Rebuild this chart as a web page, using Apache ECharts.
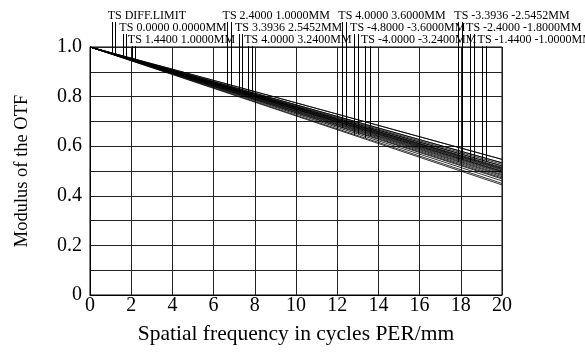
<!DOCTYPE html>
<html><head><meta charset="utf-8">
<script src="https://cdn.jsdelivr.net/npm/echarts@6/dist/echarts.min.js"></script>
<style>html,body{margin:0;padding:0;background:#fff}#c{width:585px;height:356px}</style>
</head><body><div id="c"></div>
<script>
// Data
const freq = [0, 5, 10, 15, 20];
const fieldLabels = ["TS DIFF.LIMIT", "TS 0.0000 0.0000MM", "TS 1.4400 1.0000MM", "TS 2.4000 1.0000MM",
  "TS 3.3936 2.5452MM", "TS 4.0000 3.2400MM", "TS 4.0000 3.6000MM", "TS -4.8000 -3.6000MM",
  "TS -4.0000 -3.2400MM", "TS -3.3936 -2.5452MM", "TS -2.4000 -1.8000MM", "TS -1.4400 -1.0000MM"];
const tangential = [
  [1, 0.888, 0.775, 0.661, 0.547],
  [1, 0.884, 0.767, 0.650, 0.533],
  [1, 0.881, 0.761, 0.641, 0.521],
  [1, 0.878, 0.756, 0.633, 0.510],
  [1, 0.874, 0.748, 0.621, 0.495],
  [1, 0.869, 0.739, 0.608, 0.477],
  [1, 0.867, 0.734, 0.601, 0.468],
  [1, 0.861, 0.722, 0.583, 0.444],
  [1, 0.863, 0.725, 0.588, 0.450],
  [1, 0.871, 0.741, 0.612, 0.482],
  [1, 0.875, 0.749, 0.624, 0.498],
  [1, 0.878, 0.756, 0.634, 0.512]
];
const sagittal = [
  [1, 0.888, 0.775, 0.661, 0.547],
  [1, 0.884, 0.767, 0.650, 0.533],
  [1, 0.882, 0.764, 0.645, 0.527],
  [1, 0.879, 0.758, 0.636, 0.515],
  [1, 0.876, 0.752, 0.628, 0.504],
  [1, 0.873, 0.746, 0.618, 0.491],
  [1, 0.872, 0.743, 0.615, 0.486],
  [1, 0.865, 0.730, 0.595, 0.460],
  [1, 0.868, 0.736, 0.604, 0.472],
  [1, 0.875, 0.750, 0.625, 0.500],
  [1, 0.877, 0.754, 0.630, 0.507],
  [1, 0.880, 0.760, 0.640, 0.520]
];
const xTicks = [0, 2, 4, 6, 8, 10, 12, 14, 16, 18, 20];
const yTicks = [0, 0.2, 0.4, 0.6, 0.8, 1.0];

// Layout (label leader positions along the frequency axis, T and S)
const leaderT = [1.05, 1.62, 2.03, 6.63, 7.23, 7.68, 12.25, 12.82, 13.35, 17.88, 18.45, 19.01];
const leaderS = [1.21, 1.75, 2.18, 6.83, 7.36, 7.85, 12.41, 13.02, 13.59, 18.04, 18.64, 19.21];
const rowY = [16, 28, 40];

const FONT = '"Liberation Serif", "Times New Roman", serif';
const chart = echarts.init(document.getElementById('c'), null, {renderer: 'canvas'});

const series = [];
fieldLabels.forEach((name, i) => {
  [tangential[i], sagittal[i]].forEach((vals, k) => {
    series.push({
      name: name + (k ? ' S' : ' T'), type: 'line', symbol: 'none', silent: true,
      lineStyle: {color: '#000', width: 0.8},
      data: freq.map((f, j) => [f, vals[j]])
    });
  });
});

chart.setOption({
  animation: false,
  grid: {left: 90, right: 83, top: 47, bottom: 61, show: true, borderColor: '#000', borderWidth: 1},
  xAxis: {
    type: 'value', min: 0, max: 20, interval: 2,
    name: 'Spatial frequency in cycles PER/mm', nameLocation: 'middle', nameGap: 28,
    nameTextStyle: {fontFamily: FONT, fontSize: 21.5, color: '#000'},
    axisLine: {show: true, lineStyle: {color: '#000', width: 1}},
    axisTick: {show: false},
    axisLabel: {fontFamily: FONT, fontSize: 20, color: '#000', margin: 1,
      formatter: v => xTicks.includes(v) ? String(v) : ''},
    splitLine: {show: true, lineStyle: {color: '#222', width: 1}}
  },
  yAxis: {
    type: 'value', min: 0, max: 1, interval: 0.2,
    name: 'Modulus of the OTF', nameLocation: 'middle', nameGap: 58,
    nameTextStyle: {fontFamily: FONT, fontSize: 18.5, color: '#000'},
    axisLine: {show: true, lineStyle: {color: '#000', width: 1}},
    axisTick: {show: false},
    axisLabel: {fontFamily: FONT, fontSize: 20, color: '#000', margin: 8,
      formatter: v => { const t = yTicks.find(y => Math.abs(y - v) < 1e-6); return t === undefined ? '' : (t === 0 ? '0' : t.toFixed(1)); }},
    splitLine: {show: true, lineStyle: {color: '#222', width: 1}},
    minorTick: {show: false, splitNumber: 2},
    minorSplitLine: {show: true, lineStyle: {color: '#222', width: 1}}
  },
  series: series
});

function valueAt(vals, x) {
  for (let j = 0; j < freq.length - 1; j++) {
    if (x >= freq[j] && x <= freq[j + 1]) {
      const t = (x - freq[j]) / (freq[j + 1] - freq[j]);
      return vals[j] + t * (vals[j + 1] - vals[j]);
    }
  }
  return vals[vals.length - 1];
}

const elements = [];
fieldLabels.forEach((name, i) => {
  const row = rowY[i % 3];
  const pT = chart.convertToPixel({gridIndex: 0}, [leaderT[i], valueAt(tangential[i], leaderT[i])]);
  const pS = chart.convertToPixel({gridIndex: 0}, [leaderS[i], valueAt(sagittal[i], leaderS[i])]);
  elements.push({type: 'text', silent: true, x: pT[0] - 4, y: row,
    style: {text: name, fontFamily: FONT, fontSize: 12, fill: '#000', verticalAlign: 'middle', align: 'left'}});
  [pT, pS].forEach(p => {
    elements.push({type: 'line', silent: true,
      shape: {x1: Math.round(p[0]) + 0.5, y1: row + 6, x2: Math.round(p[0]) + 0.5, y2: p[1]},
      style: {stroke: '#000', lineWidth: 1}});
  });
});
chart.setOption({graphic: {elements: elements}});
</script></body></html>
